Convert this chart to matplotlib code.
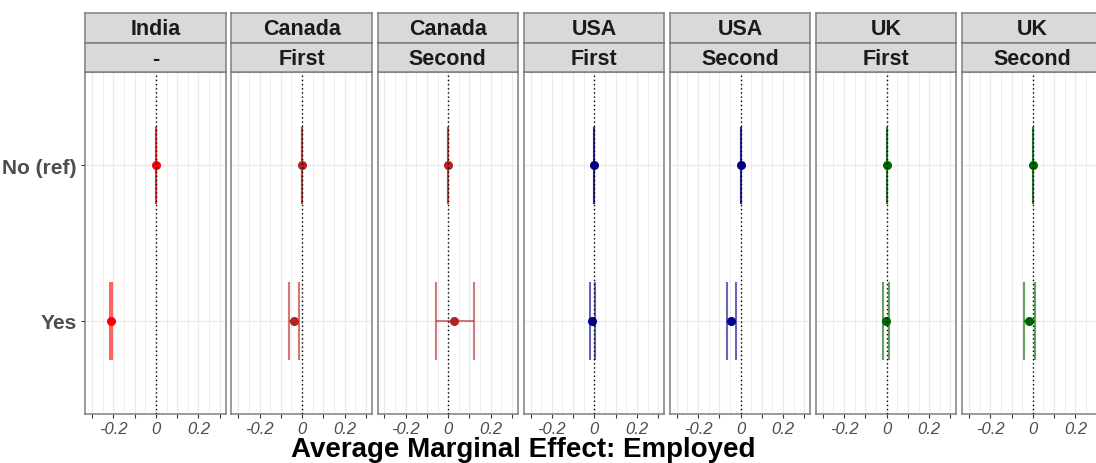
import matplotlib
matplotlib.use("Agg")
import matplotlib.pyplot as plt
import numpy as np

plt.rcParams['font.family'] = ['Liberation Sans', 'DejaVu Sans']

# facets
country = ["India", "Canada", "Canada", "USA", "USA", "UK", "UK"]
wave = ["-", "First", "Second", "First", "Second", "First", "Second"]
colors = ["#FF0000", "#B22222", "#B22222", "#00008B", "#00008B", "#006400", "#006400"]

levels = ["Yes", "No (ref)"]

# estimate and CI for "Yes" (No (ref) is 0 everywhere)
yes_est = [-0.212, -0.036, 0.028, -0.010, -0.044, -0.005, -0.019]
yes_lo = [-0.217, -0.062, -0.059, -0.019, -0.063, -0.017, -0.042]
yes_hi = [-0.207, -0.013, 0.120, 0.001, -0.022, 0.009, 0.008]
ref_est = [0, 0, 0, 0, 0, 0, 0]

W, H = 1096, 464
fig = plt.figure(figsize=(W / 100, H / 100), dpi=100)
fig.patch.set_facecolor("white")

left0, step, pw = 85.3, 146.15, 140.4
ptop, pbot = 73.3, 415
s_top, s_mid = 14, 44

for i in range(7):
    l = left0 + step * i
    ax = fig.add_axes([l / W, 1 - pbot / H, pw / W, (pbot - ptop) / H])
    ax.set_xlim(-0.332, 0.328)
    ax.set_ylim(0.4, 2.6)
    # grid
    for g in np.arange(-0.3, 0.31, 0.05):
        ax.axvline(g, color="#EBEBEB", lw=0.9 if abs(round(g * 20)) % 2 == 0 else 0.6, zorder=0)
    for yy in [1, 2]:
        ax.axhline(yy, color="#EBEBEB", lw=0.9, zorder=0)
    c = colors[i]
    # error bars
    data = [(1, yes_est[i], yes_lo[i], yes_hi[i]), (2, ref_est[i], ref_est[i], ref_est[i])]
    for y, e, lo, hi in data:
        ax.hlines(y, lo, hi, color=c, alpha=0.6, lw=1.5, zorder=2)
        ax.vlines([lo, hi], y - 0.25, y + 0.25, color=c, alpha=0.6, lw=1.5, zorder=2)
        ax.plot(e, y, 'o', color=c, ms=5.5, zorder=3)
    ax.axvline(0, color="black", ls=(0, (1, 2)), lw=1, zorder=4)
    ax.set_xticks([-0.3, -0.2, -0.1, 0, 0.1, 0.2, 0.3])
    ax.set_xticklabels(["", "-0.2", "", "0", "", "0.2", ""], fontsize=12,
                       style="italic", color="#4D4D4D")
    ax.tick_params(axis="x", length=3, color="#333333", width=0.8, pad=2)
    if i == 0:
        ax.set_yticks([1, 2])
        ax.set_yticklabels(levels, fontsize=15, fontweight="bold", color="#4D4D4D")
        ax.tick_params(axis="y", length=3, color="#333333", width=0.8, pad=3)
    else:
        ax.set_yticks([])
    for sp in ax.spines.values():
        sp.set_color("#7F7F7F")
        sp.set_linewidth(1.1)
    # strips
    for (t0, t1, txt) in [(s_top, s_mid, country[i]), (s_mid, ptop, wave[i])]:
        sax = fig.add_axes([l / W, 1 - t1 / H, pw / W, (t1 - t0) / H])
        sax.set_facecolor("#D9D9D9")
        sax.set_xticks([])
        sax.set_yticks([])
        for sp in sax.spines.values():
            sp.set_color("#7F7F7F")
            sp.set_linewidth(1.1)
        sax.text(0.5, 0.47, txt, ha="center", va="center", fontsize=15.5,
                 fontweight="bold", color="#1A1A1A", transform=sax.transAxes)

fig.text(523 / W, 0.5 / H, "Average Marginal Effect: Employed", ha="center",
         va="bottom", fontsize=20, fontweight="bold", color="black")

fig.savefig("out.png", dpi=100)
